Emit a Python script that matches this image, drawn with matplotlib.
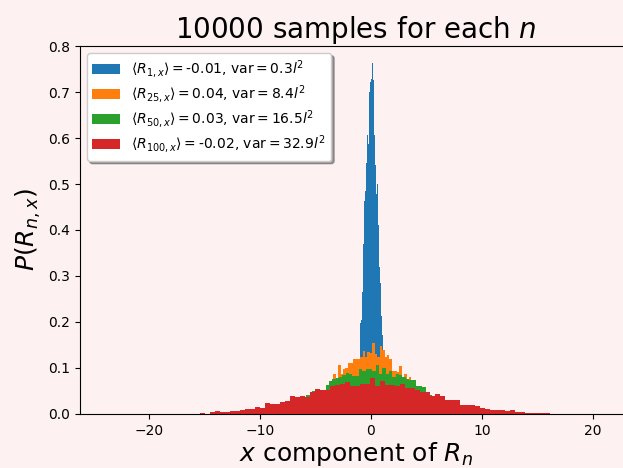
import numpy as np
import matplotlib
matplotlib.use("Agg")
import matplotlib.pyplot as plt

# densidades (una por bin)
n_vals = [1, 25, 50, 100]
medias = ["-0.01", "0.04", "0.03", "-0.02"]
varianzas = ["0.3", "8.4", "16.5", "32.9"]

# n = 1
rango_1 = (-0.99, 1.17)
dens_1 = [0.197, 0.204, 0.266, 0.370, 0.463, 0.485, 0.545, 0.607, 0.588, 0.700,
          0.721, 0.728, 0.762, 0.726, 0.607, 0.541, 0.479, 0.499, 0.411, 0.320,
          0.284, 0.212, 0.172, 0.100]

# n = 25
rango_25 = (-7.80, 7.60)
dens_25 = [0.003, 0.004, 0.005, 0.007, 0.008, 0.010, 0.012, 0.015, 0.018, 0.021,
           0.025, 0.029, 0.033, 0.038, 0.043, 0.046, 0.049, 0.058, 0.060, 0.070,
           0.087, 0.072, 0.107, 0.087, 0.098, 0.101, 0.111, 0.111, 0.120, 0.120,
           0.120, 0.124, 0.137, 0.124, 0.135, 0.132, 0.154, 0.130, 0.124, 0.148,
           0.139, 0.124, 0.128, 0.120, 0.093, 0.093, 0.092, 0.104, 0.080, 0.087,
           0.076, 0.080, 0.070, 0.064, 0.058, 0.053, 0.048, 0.043, 0.039, 0.035,
           0.031, 0.027, 0.023, 0.019, 0.016, 0.013, 0.010, 0.008, 0.006, 0.004]

# n = 50
rango_50 = (-10.38, 10.62)
dens_50 = [0.002, 0.003, 0.004, 0.006, 0.007, 0.009, 0.011, 0.012, 0.015, 0.018,
           0.020, 0.024, 0.027, 0.030, 0.034, 0.041, 0.041, 0.050, 0.050, 0.050,
           0.048, 0.063, 0.072, 0.076, 0.078, 0.080, 0.085, 0.089, 0.087, 0.083,
           0.083, 0.098, 0.093, 0.098, 0.098, 0.093, 0.107, 0.087, 0.100, 0.087,
           0.093, 0.080, 0.087, 0.085, 0.080, 0.076, 0.074, 0.074, 0.061, 0.061,
           0.059, 0.045, 0.041, 0.038, 0.036, 0.034, 0.031, 0.028, 0.025, 0.022,
           0.019, 0.016, 0.013, 0.011, 0.009, 0.007, 0.005, 0.004, 0.003, 0.002]

# n = 100
rango_100 = (-15.40, 16.10)
dens_100 = [0.003, 0.001, 0.004, 0.0065, 0.004, 0.004, 0.0065, 0.0065, 0.0087, 0.011,
            0.011, 0.015, 0.013, 0.024, 0.022, 0.022, 0.026, 0.028, 0.039, 0.037,
            0.039, 0.037, 0.048, 0.054, 0.052, 0.052, 0.061, 0.063, 0.065, 0.070,
            0.061, 0.061, 0.065, 0.065, 0.078, 0.061, 0.072, 0.063, 0.063, 0.061,
            0.065, 0.057, 0.057, 0.052, 0.048, 0.048, 0.039, 0.043, 0.039, 0.030,
            0.030, 0.030, 0.0196, 0.0196, 0.0196, 0.017, 0.013, 0.011, 0.0087, 0.0087,
            0.0087, 0.0065, 0.0087, 0.0043, 0.0043, 0.002, 0.002, 0.002, 0.002, 0.002]

rangos = [rango_1, rango_25, rango_50, rango_100]
densidades = [dens_1, dens_25, dens_50, dens_100]

fondo = "#fdf1f1"
fig = plt.figure(figsize=(6.23, 4.68), dpi=100, facecolor=fondo)
ax = fig.add_axes([0.1284, 0.1154, 0.886, 0.7863], facecolor=fondo)

for n, media, var, rango, dens in zip(n_vals, medias, varianzas, rangos, densidades):
    bordes = np.linspace(rango[0], rango[1], len(dens) + 1)
    centros = (bordes[:-1] + bordes[1:]) / 2
    etiqueta = (r"$\langle R_{%d,x}\rangle = $" % n + media
                + r", var$ = $" + var + r"$l^2$")
    ax.hist(centros, bins=bordes, weights=dens, label=etiqueta)

ax.set_xlim(-26.2, 23.5)
ax.set_ylim(0, 0.8)
ax.set_title("10000 samples for each $n$", fontsize=20)
ax.set_xlabel("$x$ component of $R_n$", fontsize=18, labelpad=2)
ax.set_ylabel("$P(R_{n,x})$", fontsize=18)
ax.legend(loc="upper left", shadow=True, facecolor="white", framealpha=1,
          labelspacing=0.25)

fig.savefig("out.png", dpi=100, facecolor=fondo)
